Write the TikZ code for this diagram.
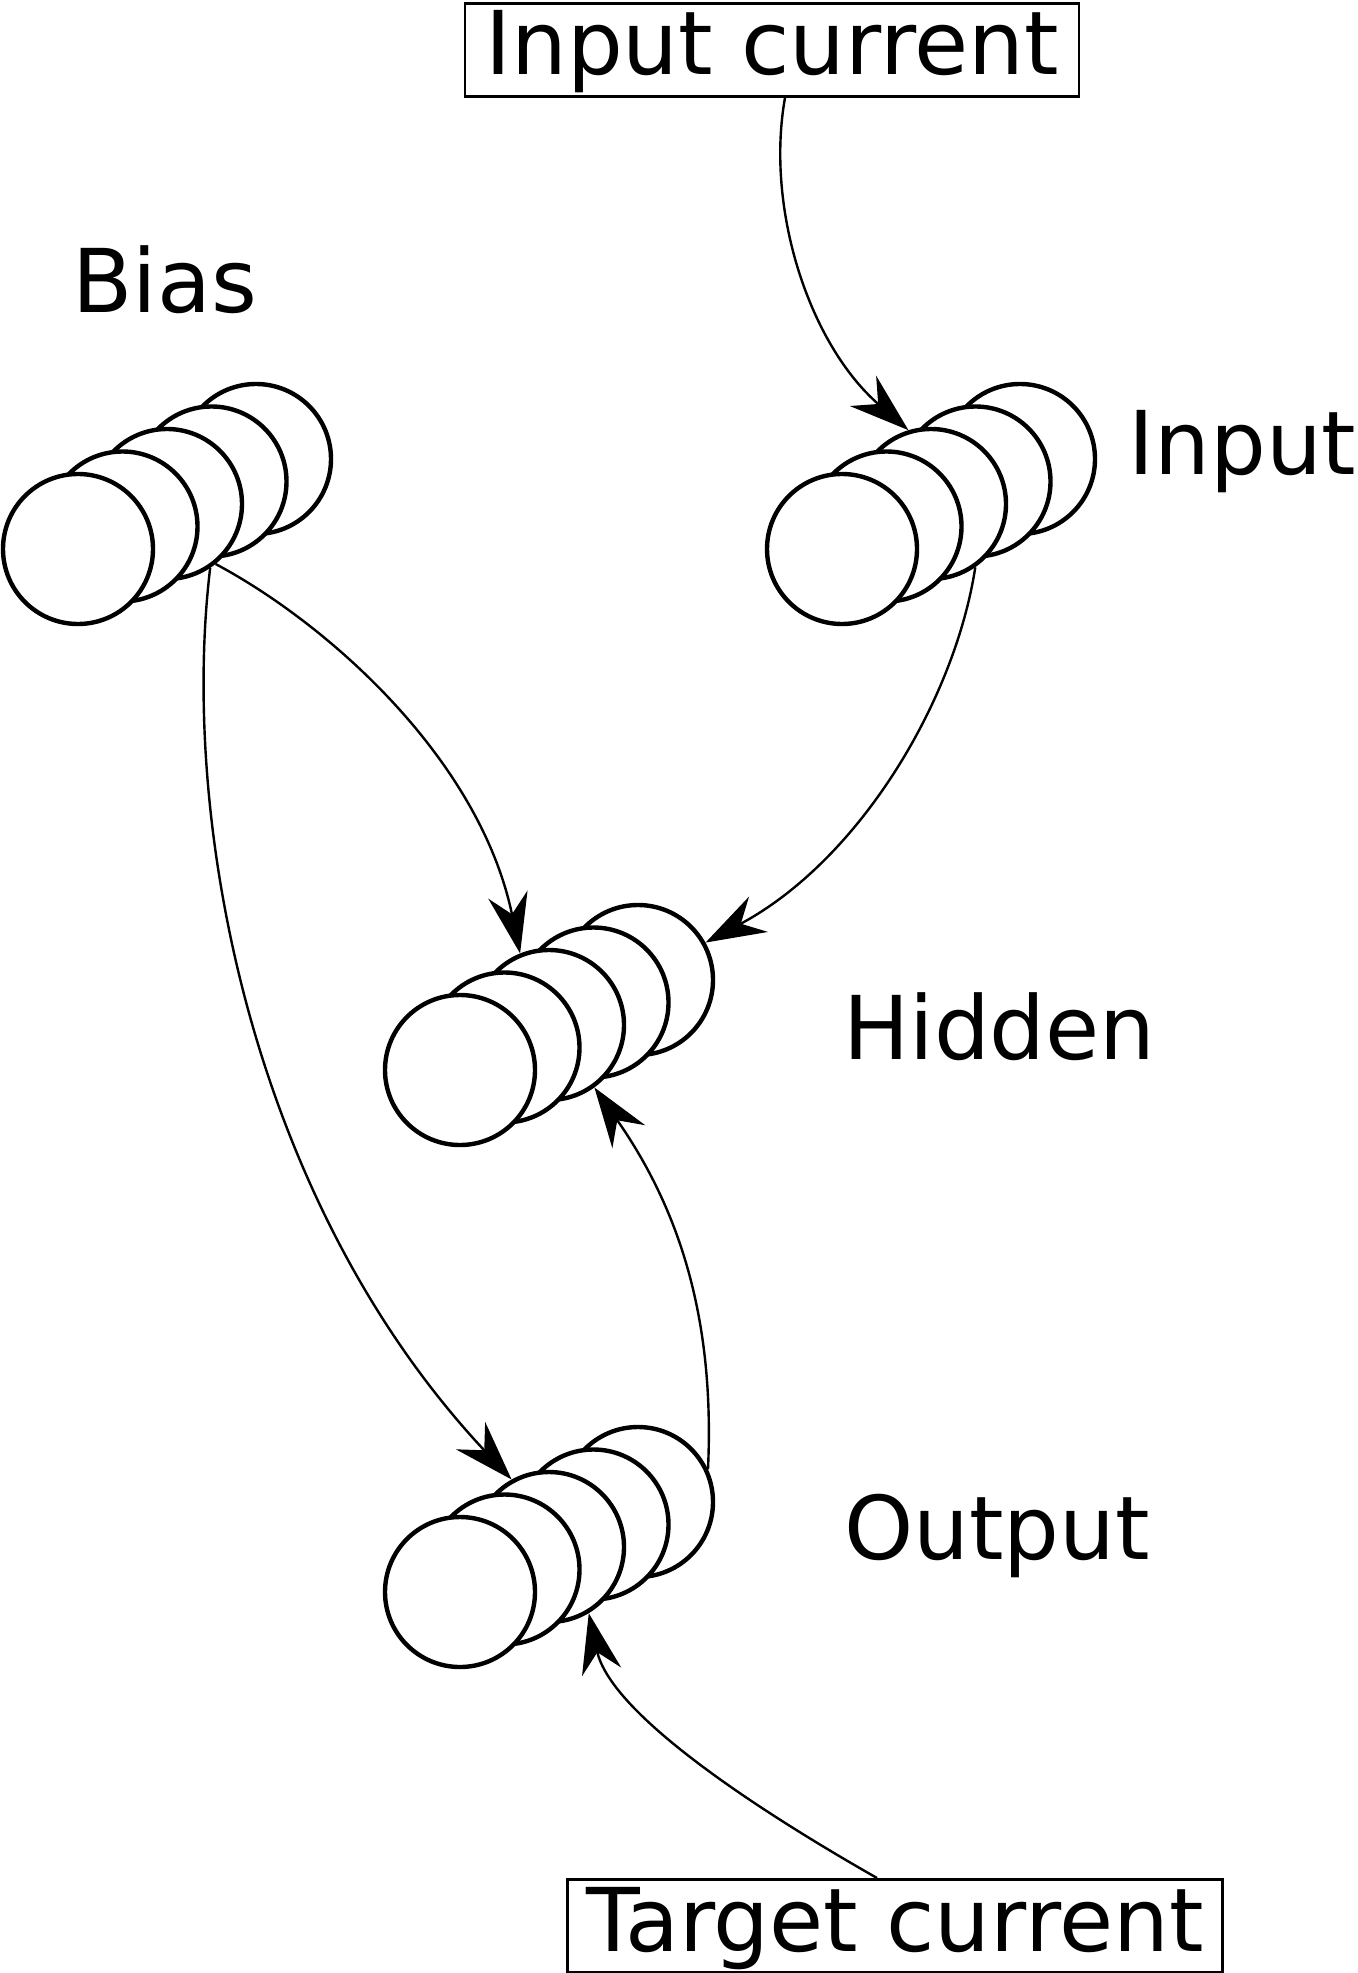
\documentclass[tikz,border=0pt]{standalone}
\usepackage{fontspec}
\setmainfont{DejaVu Sans}
\usetikzlibrary{arrows.meta}
\begin{document}
\begin{tikzpicture}[x=0.5pt,y=-0.5pt,
  neuron/.style={circle,draw,fill=white,line width=2.2pt,minimum size=75pt,inner sep=0pt},
  lbl/.style={anchor=base west,inner sep=0pt,font=\fontsize{44pt}{52pt}\selectfont},
  curbox/.style={draw,line width=1.35pt,inner xsep=0pt,inner ysep=0pt,anchor=north,
    font=\fontsize{44pt}{52pt}\selectfont},
  conn/.style={line width=1.2pt,-{Stealth[length=30pt,width=20pt,inset=10pt]}}]
\useasboundingbox (0,0) rectangle (1358,1973);
% neuron groups (back to front)
\foreach \i in {5,4,...,1}{
  \node[neuron] (b\i) at ({78+44.5*(\i-1)},{549-22.5*(\i-1)}) {};
  \node[neuron] (i\i) at ({842+44.5*(\i-1)},{549-22.5*(\i-1)}) {};
  \node[neuron] (h\i) at ({460+44.5*(\i-1)},{1070-22.5*(\i-1)}) {};
  \node[neuron] (o\i) at ({460+44.5*(\i-1)},{1592-22.5*(\i-1)}) {};
}
% labels
\node[lbl] (lb) at (72,313) {Bias};
\node[lbl] (li) at (1128,474) {Input};
\node[lbl] (lh) at (843,1059) {Hidden};
\node[lbl] (lo) at (844,1559) {Output};
% current boxes
\node[curbox,minimum width=307pt,text height=35.5pt,text depth=11pt] (ic) at (772,2) {Input current};
\node[curbox,minimum width=327.5pt,text height=36pt,text depth=10.5pt] (tc) at (895,1878) {Target current};
% connectors
\draw[conn] ([xshift=6.5pt]ic.south) .. controls (765,210) and (810,345) .. (i3.107.5);
\draw[conn] (b3.-51) .. controls (330,625) and (480,760) .. (h3.112);
\draw[conn] (b3.-56) .. controls (180,820) and (250,1200) .. (o3.119);
\draw[conn] (i3.-55) .. controls (955,700) and (860,860) .. (h5.29);
\draw[conn] (o5.25) .. controls (715,1320) and (680,1210) .. (h3.-54);
\draw[conn] ([xshift=-9pt]tc.north) .. controls (740,1800) and (610,1710) .. (o3.-59);
\end{tikzpicture}
\end{document}
